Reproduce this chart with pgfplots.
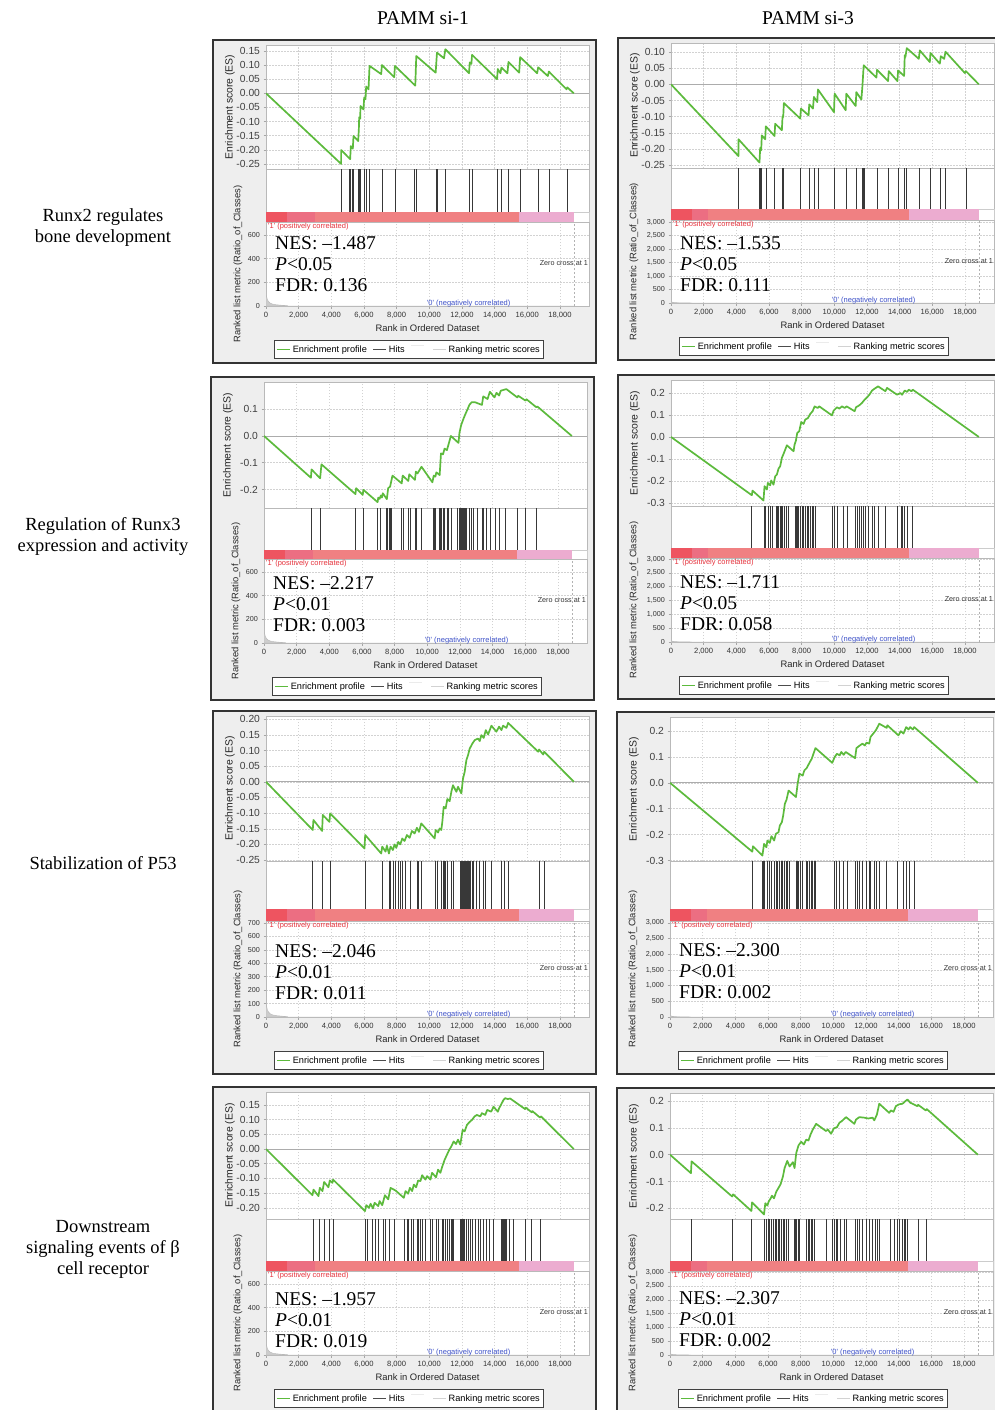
\documentclass[border=0pt]{standalone}
\usepackage{fontspec}
\setmainfont{Liberation Sans}
\newfontfamily\tnr{Liberation Serif}
\usepackage{pgfplots}
\pgfplotsset{compat=1.18}
\usepackage{pgfplotstable}
\pgfplotstableset{create on use/one/.style={create col/set={1}}}

\definecolor{esgreen}{RGB}{92,186,60}
\definecolor{barA}{RGB}{238,84,96}
\definecolor{barB}{RGB}{236,110,130}
\definecolor{barC}{RGB}{240,128,130}
\definecolor{barD}{RGB}{236,172,208}
\definecolor{panelbg}{RGB}{238,238,238}
\definecolor{poscol}{RGB}{230,50,60}
\definecolor{negcol}{RGB}{60,80,200}

\pgfplotsset{
 gbase/.style={scale only axis, width=323pt, xmin=0, xmax=19780, anchor=north west,
   scaled x ticks=false, scaled y ticks=false,
   axis background/.style={fill=white},
   axis line style={gray!55, line width=0.6pt},
   tick style={gray!70, line width=0.5pt},
   major tick length=2.5pt, tick align=outside,
   xtick={0,2000,...,18000},
   grid style={gray!35, dash pattern=on 1.5pt off 1.5pt, line width=0.5pt},
   /pgf/number format/assume math mode=true,
   legend image code/.code={\draw[##1] (0pt,0pt) -- (13pt,0pt);},
 },
 esax/.style={gbase, xmajorgrids, ymajorgrids, xticklabel style={opacity=0}, xtick style={draw=none}, ytick pos=left,
   yticklabel style={font=\fontsize{10.3}{10}\selectfont, text=black!75},
   ylabel={Enrichment score (ES)},
   ylabel style={at={(axis description cs:-0.1115,0.5)}, anchor=center, font=\fontsize{10.4}{11}\selectfont, text=black!85},
 },
 hitax/.style={gbase, xtick=\empty, ytick=\empty, ymin=0, ymax=1},
 barax/.style={gbase, xtick=\empty, ytick=\empty, ymin=0, ymax=1, axis line style={gray!40}},
 metax/.style={gbase, xmajorgrids, ymajorgrids, ytick pos=left, xtick pos=bottom,
   xticklabels={0,{2,000},{4,000},{6,000},{8,000},{10,000},{12,000},{14,000},{16,000},{18,000}},
   xticklabel style={font=\fontsize{7.6}{8}\selectfont, text=black!80},
   yticklabel style={font=\fontsize{7.2}{8}\selectfont, text=black!80},
   xlabel={Rank in Ordered Dataset},
   xlabel style={at={(axis description cs:0.5,0)}, anchor=center, yshift=-22pt, font=\fontsize{9.4}{10}\selectfont, text=black!85},
   ylabel={Ranked list metric (Ratio\_of\_Classes)},
   ylabel style={at={(axis description cs:-0.0867,0.5)}, anchor=center, font=\fontsize{9.4}{10}\selectfont, text=black!85},
   legend columns=4,
   legend style={at={(axis description cs:0,0)}, anchor=north west, xshift=8pt, yshift=-34pt,
     draw=black!75, line width=0.9pt, fill=white, font=\fontsize{9.2}{10}\selectfont, inner xsep=1.5pt, inner ysep=3pt,
     /tikz/every even column/.append style={column sep=4pt}},
 },
 metL/.style={ymin=0, ymax=710, ytick={0,200,400,600}, yticklabels={0,200,400,600}},
 metL7/.style={ymin=0, ymax=715, ytick={0,100,...,700}, yticklabels={0,100,200,300,400,500,600,700}},
 metR/.style={ymin=0, ymax=#1, ytick={0,500,...,3000}, yticklabels={0,500,{1,000},{1,500},{2,000},{2,500},{3,000}},
   ylabel style={at={(axis description cs:-0.1146,0.5)}}},
}

% ---------- data ----------
\pgfplotstableread[row sep=\\]{x y\\0 150\\15 120\\40 80\\80 55\\150 38\\250 25\\400 16\\650 10\\1000 6\\1300 3\\1350 0\\18850 0\\}\metLt
\pgfplotstableread[row sep=\\]{x y\\0 110\\20 60\\60 35\\150 20\\400 10\\1000 5\\1300 0\\18850 0\\}\metRt

\pgfplotstableread[row sep=\\]{x y\\0 0\\4601 -0.250\\4601 -0.201\\5153 -0.233\\5194 -0.187\\5317 -0.196\\5358 -0.151\\5644 -0.169\\5685 -0.128\\5706 -0.085\\5767 -0.090\\5787 -0.045\\5971 -0.057\\6012 -0.015\\6094 -0.021\\6135 0.024\\6278 0.014\\6340 0.097\\7055 0.068\\7096 0.100\\7853 0.057\\7894 0.097\\9141 0.027\\9203 0.132\\10389 0.073\\10470 0.144\\10900 0.124\\10982 0.156\\12434 0.071\\12475 0.109\\12577 0.104\\12618 0.136\\14151 0.050\\14192 0.086\\14356 0.071\\14417 0.091\\14785 0.071\\14847 0.111\\15501 0.073\\15563 0.128\\16605 0.071\\16667 0.092\\17260 0.061\\17321 0.077\\18405 0.014\\18446 0.021\\18850 0\\}\esA
\pgfplotstableread[row sep=\\]{x\\4601\\5130\\5194\\5317\\5358\\5685\\5706\\5767\\5787\\6012\\6135\\6340\\7096\\7894\\9100\\9203\\10430\\10490\\10982\\12475\\12618\\14192\\14417\\14847\\15563\\16667\\17321\\18446\\}\hitA

\pgfplotstableread[row sep=\\]{x y\\0 0\\4131 -0.222\\4131 -0.170\\5419 -0.242\\5460 -0.197\\5522 -0.204\\5562 -0.158\\5767 -0.170\\5808 -0.130\\6340 -0.160\\6380 -0.122\\6789 -0.142\\6830 -0.099\\6871 -0.101\\6912 -0.058\\7914 -0.106\\7955 -0.075\\8425 -0.096\\8466 -0.062\\8691 -0.075\\8753 -0.039\\8957 -0.055\\8998 -0.016\\9980 -0.086\\10021 -0.029\\10695 -0.080\\10736 -0.029\\11309 -0.067\\11350 -0.024\\11657 -0.047\\11718 -0.008\\11800 0.059\\12577 0.021\\12618 0.045\\13293 0.010\\13334 0.041\\13865 0.010\\13906 0.043\\14274 0.026\\14315 0.090\\14356 0.085\\14438 0.112\\15174 0.079\\15235 0.105\\15849 0.069\\15890 0.097\\16462 0.064\\16524 0.087\\16728 0.079\\16810 0.101\\17996 0.035\\18057 0.041\\18850 0\\}\esB
\pgfplotstableread[row sep=\\]{x\\4131\\5419\\5481\\5562\\5808\\6340\\6789\\6871\\7914\\8446\\8753\\8998\\10021\\10736\\11350\\11718\\11800\\11862\\12618\\13334\\13906\\14315\\14438\\15235\\15890\\16524\\16810\\18057\\}\hitB

\pgfplotstableread[row sep=\\]{x y\\0 0\\2871 -0.156\\2912 -0.125\\3437 -0.158\\3518 -0.106\\5601 -0.217\\5641 -0.195\\6046 -0.220\\6086 -0.201\\6956 -0.247\\6996 -0.230\\7077 -0.235\\7158 -0.222\\7219 -0.230\\7279 -0.214\\7522 -0.236\\7603 -0.195\\7724 -0.189\\7866 -0.148\\8432 -0.177\\8492 -0.148\\8836 -0.168\\8897 -0.143\\9241 -0.164\\9301 -0.133\\9400 -0.140\\9645 -0.115\\10312 -0.173\\10393 -0.148\\10494 -0.152\\10555 -0.136\\10757 -0.146\\10838 -0.065\\10959 -0.069\\11060 -0.047\\11202 -0.053\\11444 0\\11910 -0.026\\11970 0.012\\12071 0.040\\12213 0.064\\12314 0.079\\12475 0.101\\12576 0.116\\12718 0.126\\12920 0.126\\13346 0.116\\13426 0.148\\13689 0.138\\13831 0.165\\14114 0.144\\14235 0.161\\14397 0.151\\14498 0.169\\14841 0.175\\15509 0.144\\15570 0.150\\16014 0.132\\16075 0.137\\16681 0.107\\16740 0.110\\18850 0\\}\esC
\pgfplotstableread[row sep=\\]{x\\2871\\3478\\5601\\6066\\6956\\7117\\7522\\7583\\7663\\7724\\7825\\8432\\8533\\8836\\8937\\9241\\9342\\9645\\10352\\10453\\10514\\10757\\10817\\10878\\10959\\11060\\11202\\11262\\11444\\11869\\11970\\12010\\12071\\12132\\12193\\12274\\12334\\12415\\12576\\12718\\12819\\13082\\13346\\13426\\13588\\13831\\14195\\14437\\14761\\15509\\16014\\16681\\}\hitC

\pgfplotstableread[row sep=\\]{x y\\0 0\\4949 -0.265\\4990 -0.244\\5664 -0.289\\5726 -0.224\\5869 -0.239\\5931 -0.209\\6074 -0.220\\6135 -0.198\\6278 -0.217\\6380 -0.179\\6483 -0.171\\6585 -0.144\\6687 -0.133\\6789 -0.095\\6892 -0.077\\7096 -0.038\\7505 -0.065\\7566 -0.035\\7648 -0.017\\7730 0.018\\7853 0.026\\7975 0.068\\8118 0.059\\8221 0.079\\8384 0.086\\8528 0.105\\8671 0.117\\8794 0.139\\8978 0.132\\9080 0.139\\9857 0.098\\9959 0.120\\10164 0.135\\10307 0.129\\10470 0.139\\10634 0.132\\10756 0.139\\11247 0.117\\11329 0.135\\11534 0.144\\11697 0.155\\11861 0.170\\12004 0.180\\12147 0.192\\12311 0.211\\12475 0.220\\12679 0.230\\13129 0.208\\13231 0.223\\13845 0.192\\14049 0.200\\14151 0.192\\14315 0.211\\14458 0.205\\14560 0.215\\14724 0.208\\14806 0.215\\18850 0\\}\esD
\pgfplotstableread[row sep=\\]{x\\4949\\5706\\5767\\5931\\6074\\6176\\6421\\6503\\6585\\6667\\6749\\6830\\6933\\7035\\7157\\7607\\7669\\7751\\7812\\7914\\8016\\8119\\8221\\8323\\8425\\8528\\8630\\8732\\8834\\9898\\10021\\10164\\10573\\10777\\11288\\11391\\11534\\11657\\11800\\11902\\12106\\12352\\12475\\12679\\13129\\13845\\14110\\14192\\14315\\14479\\14806\\}\hitD

\pgfplotstableread[row sep=\\]{x y\\0 0\\2863 -0.154\\2904 -0.122\\3436 -0.157\\3477 -0.106\\3886 -0.128\\3927 -0.101\\6033 -0.213\\6074 -0.170\\7055 -0.229\\7117 -0.207\\7321 -0.223\\7403 -0.204\\7526 -0.229\\7628 -0.207\\7771 -0.218\\7874 -0.200\\7976 -0.211\\8098 -0.192\\8221 -0.200\\8344 -0.181\\8487 -0.189\\8630 -0.170\\8794 -0.179\\8937 -0.157\\9100 -0.165\\9243 -0.147\\9366 -0.160\\9509 -0.133\\10327 -0.181\\10389 -0.154\\10532 -0.162\\10634 -0.149\\10736 -0.154\\10798 -0.128\\10880 -0.080\\11002 -0.085\\11104 -0.055\\11247 -0.062\\11350 -0.032\\11452 -0.011\\11657 -0.032\\11760 -0.016\\11964 -0.037\\12066 0.011\\12168 0.032\\12270 0.069\\12373 0.085\\12475 0.106\\12638 0.122\\12781 0.133\\12986 0.138\\13088 0.130\\13190 0.149\\13333 0.140\\13457 0.165\\13599 0.151\\13804 0.179\\14110 0.160\\14274 0.176\\14417 0.165\\14520 0.179\\14724 0.172\\14826 0.188\\16667 0.096\\16728 0.103\\16973 0.087\\17035 0.096\\18850 0\\}\esE
\pgfplotstableread[row sep=\\]{x\\2863\\3477\\3926\\6074\\7117\\7526\\7607\\7771\\7935\\8078\\8241\\8344\\8548\\8834\\9243\\9305\\9509\\10389\\10491\\10757\\10839\\10900\\10982\\11104\\11350\\11452\\11902\\11963\\12025\\12066\\12106\\12168\\12229\\12270\\12331\\12393\\12475\\12536\\12618\\12720\\12884\\13047\\13333\\13456\\13804\\14417\\14622\\14826\\16728\\17035\\}\hitE

\pgfplotstableread[row sep=\\]{x y\\0 0\\5040 -0.266\\5081 -0.245\\5657 -0.281\\5760 -0.236\\5904 -0.249\\5965 -0.223\\6109 -0.232\\6212 -0.206\\6377 -0.223\\6480 -0.197\\6644 -0.191\\6726 -0.165\\6850 -0.152\\6932 -0.126\\7035 -0.081\\7138 -0.065\\7261 -0.030\\7714 -0.055\\7817 -0.004\\7920 0.035\\8125 0.028\\8228 0.048\\8372 0.057\\8537 0.077\\8681 0.093\\8784 0.112\\8907 0.134\\9935 0.077\\10079 0.099\\10223 0.112\\10388 0.106\\10491 0.119\\10635 0.108\\10758 0.119\\11334 0.095\\11416 0.134\\11622 0.144\\11787 0.151\\11931 0.144\\12034 0.155\\12198 0.151\\12280 0.177\\12445 0.190\\12609 0.203\\12815 0.228\\13268 0.212\\13309 0.222\\13988 0.183\\14132 0.199\\14297 0.190\\14461 0.215\\14605 0.206\\14708 0.215\\14872 0.206\\14954 0.215\\18850 0\\}\esF
\pgfplotstableread[row sep=\\]{x\\5040\\5657\\5718\\5801\\5965\\6068\\6233\\6377\\6521\\6603\\6685\\6788\\6891\\6994\\7097\\7200\\7303\\7755\\7817\\7878\\7960\\8084\\8331\\8434\\8537\\8640\\8742\\8845\\8907\\10038\\10182\\10347\\10635\\10861\\11375\\11457\\11622\\11787\\11993\\12198\\12280\\12486\\12609\\12815\\13268\\13926\\14297\\14461\\14667\\14954\\}\hitF

\pgfplotstableread[row sep=\\]{x y\\0 0\\2848 -0.157\\2909 -0.138\\3214 -0.160\\3295 -0.132\\3458 -0.143\\3560 -0.112\\3824 -0.130\\3905 -0.107\\4068 -0.115\\4109 -0.104\\6061 -0.211\\6143 -0.191\\6305 -0.200\\6407 -0.186\\6550 -0.202\\6651 -0.183\\6875 -0.194\\6956 -0.177\\7119 -0.191\\7282 -0.157\\7485 -0.171\\7627 -0.132\\7932 -0.141\\8441 -0.166\\8543 -0.143\\8706 -0.152\\8807 -0.132\\8950 -0.143\\9051 -0.121\\9194 -0.130\\9316 -0.107\\9458 -0.109\\9560 -0.089\\9763 -0.104\\9865 -0.092\\10068 -0.104\\10170 -0.081\\10414 -0.096\\10536 -0.070\\10678 -0.081\\10780 -0.062\\10943 -0.036\\11085 -0.019\\11227 -0.002\\11350 0.009\\11492 0.026\\11634 0.017\\11756 0.032\\11899 0.015\\12041 0.065\\12163 0.060\\12306 0.082\\12448 0.091\\12611 0.099\\12773 0.111\\12916 0.116\\13119 0.111\\13221 0.122\\13424 0.116\\13546 0.133\\13790 0.127\\13933 0.144\\14197 0.127\\14278 0.139\\14441 0.156\\14543 0.167\\14645 0.173\\14807 0.170\\14950 0.172\\15153 0.164\\15865 0.136\\15906 0.141\\16272 0.125\\16313 0.129\\16780 0.107\\16841 0.111\\18850 0\\}\esG
\pgfplotstableread[row sep=\\]{x\\2888\\3295\\3560\\3905\\4109\\6061\\6204\\6509\\6712\\6875\\7160\\7282\\7526\\7831\\8502\\8645\\8746\\8909\\9051\\9255\\9316\\9458\\9601\\9763\\10068\\10170\\10414\\10536\\10780\\10882\\10984\\11085\\11227\\11350\\11431\\11492\\11899\\11960\\12001\\12041\\12102\\12163\\12245\\12367\\12509\\12651\\12814\\12977\\13119\\13323\\13465\\13668\\13933\\14441\\14482\\14543\\14604\\14645\\14746\\14889\\15153\\15906\\16272\\16780\\}\hitG

\pgfplotstableread[row sep=\\]{x y\\0 0\\1281 -0.069\\1322 -0.025\\3804 -0.156\\3865 -0.148\\4983 -0.210\\5024 -0.178\\5756 -0.223\\5838 -0.181\\5960 -0.190\\6041 -0.175\\6163 -0.163\\6244 -0.153\\6366 -0.163\\6509 -0.138\\6651 -0.123\\6773 -0.110\\6916 -0.081\\7017 -0.050\\7180 -0.023\\7322 -0.044\\7526 -0.028\\7627 -0.050\\7729 0.006\\7871 0.035\\8034 0.048\\8197 0.038\\8339 0.056\\8481 0.053\\8604 0.075\\8746 0.094\\8950 0.115\\9560 0.088\\9661 0.094\\9865 0.078\\10028 0.098\\10231 0.103\\10373 0.119\\10516 0.125\\10780 0.140\\11289 0.115\\11391 0.131\\11594 0.140\\11899 0.138\\12143 0.135\\12407 0.138\\12509 0.128\\12672 0.150\\12814 0.190\\13424 0.156\\13526 0.165\\13689 0.160\\13831 0.181\\14034 0.188\\14238 0.190\\14380 0.198\\14543 0.206\\14706 0.194\\15153 0.181\\15194 0.186\\15662 0.165\\15723 0.170\\18850 0\\}\esH
\pgfplotstableread[row sep=\\]{x\\1281\\3824\\4983\\5756\\5899\\6000\\6102\\6204\\6305\\6448\\6529\\6611\\6712\\6814\\6916\\7017\\7119\\7221\\7587\\7668\\7729\\7831\\7933\\8339\\8441\\8543\\8645\\8746\\8848\\9560\\9967\\10068\\10170\\10272\\10434\\10678\\10780\\11329\\11452\\11594\\11797\\12001\\12204\\12407\\12550\\12672\\12814\\13485\\13729\\13892\\14034\\14238\\14339\\14441\\14543\\15194\\15723\\}\hitH

% ---------- one GSEA panel ----------
% #1 left x, #2 top y, #3 ES height, #4 hits height, #5 bar height, #6 metric height, #7 ES table, #8 hits table, #9 metric table
\newcommand\gsea[9]{%
\filldraw[fill=panelbg, draw=black!80, line width=1.6pt] ({#1pt-53pt},{-#2pt+5pt}) rectangle ({#1pt+330pt},{-#2pt-#3pt-#4pt-#5pt-#6pt-57pt});
\begin{axis}[esax, curES, at={({#1pt},{-#2pt})}, height=#3pt]
 \addplot[gray!65, line width=0.8pt] coordinates {(0,0) (19780,0)};
 \addplot[esgreen, line width=1.7pt, line join=round] table[x=x, y=y] {#7};
\end{axis}
\begin{axis}[hitax, at={({#1pt},{-#2pt-#3pt})}, height=#4pt]
 \addplot[ycomb, black!78, line width=0.7pt] table[x=x, y=one] {#8};
\end{axis}
\begin{axis}[barax, at={({#1pt},{-#2pt-#3pt-#4pt})}, height=#5pt]
 \addplot[fill=barA, draw=none] coordinates {(0,1) (\bA,1)} \closedcycle;
 \addplot[fill=barB, draw=none] coordinates {(\bA,1) (\bB,1)} \closedcycle;
 \addplot[fill=barC, draw=none] coordinates {(\bB,1) (\bC,1)} \closedcycle;
 \addplot[fill=barD, draw=none] coordinates {(\bC,1) (18850,1)} \closedcycle;
\end{axis}
\begin{axis}[metax, curMet, at={({#1pt},{-#2pt-#3pt-#4pt-#5pt})}, height=#6pt]
 \addlegendimage{esgreen, line width=1.8pt}\addlegendentry{Enrichment profile}
 \addlegendimage{black!70, line width=1pt}\addlegendentry{Hits}
 \addlegendimage{black!8, line width=1pt, yshift=4pt}\addlegendentry{}
 \addlegendimage{gray!35, line width=1pt}\addlegendentry{Ranking metric scores}
 \addplot[fill=gray!40, draw=gray!55, line width=0.4pt, forget plot] table[x=x, y=y] {#9} \closedcycle;
 \addplot[gray!60, dash pattern=on 2pt off 2pt, line width=0.6pt, forget plot] coordinates {(18850,0) (18850,5000)};
 \node[anchor=north west, inner sep=1pt, text=poscol, font=\fontsize{7.5}{8}\selectfont] at (rel axis cs:0.003,1) {\textquotesingle 1\textquotesingle\ (positively correlated)};
 \node[anchor=base west, inner sep=0pt, yshift=1pt, text=negcol, font=\fontsize{7.5}{8}\selectfont] at (axis cs:9850,0) {\textquotesingle 0\textquotesingle\ (negatively correlated)};
 \node[anchor=east, inner sep=1pt, text=black!80, font=\fontsize{7.2}{8}\selectfont] at (rel axis cs:1,0.51) {Zero cross at 1};
 \node[anchor=north west, align=left, inner sep=0pt, xshift=9pt, yshift=\nesy, font=\tnr\fontsize{19.5}{21.3}\selectfont] at (rel axis cs:0,1) {\nestext};
\end{axis}
}

\begin{document}
\begin{tikzpicture}
\useasboundingbox (0,0) rectangle (995pt,-1410pt);
\clip (0,0) rectangle (995pt,-1410pt);
\fill[white] (0,0) rectangle (995pt,-1410pt);

% headers and row labels
\node[font=\tnr\fontsize{19.5}{22}\selectfont] at (423pt,-18pt) {PAMM si-1};
\node[font=\tnr\fontsize{19.5}{22}\selectfont] at (808pt,-18pt) {PAMM si-3};
\node[align=center, font=\tnr\fontsize{18.5}{21}\selectfont] at (103pt,-228pt) {Runx2 regulates\\bone development};
\node[align=center, font=\tnr\fontsize{18.5}{21}\selectfont] at (103pt,-536pt) {Regulation of Runx3\\expression and activity};
\node[align=center, font=\tnr\fontsize{18.5}{21}\selectfont] at (103pt,-863pt) {Stabilization of P53};
\node[align=center, font=\tnr\fontsize{18.5}{21}\selectfont] at (103pt,-1249pt) {Downstream\\signaling events of β\\cell receptor};

% Row 1
\pgfplotsset{curES/.style={ymin=-0.268, ymax=0.171, ytick={-0.25,-0.2,-0.15,-0.1,-0.05,0,0.05,0.1,0.15}, yticklabels={-0.25,-0.20,-0.15,-0.10,-0.05,0.00,0.05,0.10,0.15}}, curMet/.style={metL}}
\def\nestext{NES: –1.487\\\textit{P}<0.05\\FDR: 0.136}\def\nesy{-14pt}\def\bA{1300}\def\bB{3000}\def\bC{15500}
\gsea{266}{45}{124}{43}{10}{84}{\esA}{\hitA}{\metLt}

\pgfplotsset{curES/.style={ymin=-0.259, ymax=0.128, ytick={-0.25,-0.2,-0.15,-0.1,-0.05,0,0.05,0.1}, yticklabels={-0.25,-0.20,-0.15,-0.10,-0.05,0.00,0.05,0.10}}, curMet/.style={metR=3074}}
\def\nestext{NES: –1.535\\\textit{P}<0.05\\FDR: 0.111}\def\nesy{-16pt}\def\bA{1300}\def\bB{2250}\def\bC{14550}
\gsea{671}{43}{125}{41}{11}{83}{\esB}{\hitB}{\metRt}

% Row 2
\pgfplotsset{curES/.style={ymin=-0.269, ymax=0.2015, ytick={-0.2,-0.1,0,0.1}, yticklabels={-0.2,-0.1,0.0,0.1}}, curMet/.style={metL}}
\def\nestext{NES: –2.217\\\textit{P}<0.01\\FDR: 0.003}\def\nesy{-17pt}\def\bA{1300}\def\bB{3000}\def\bC{15500}
\gsea{264}{382}{126}{42}{9}{84}{\esC}{\hitC}{\metLt}

\pgfplotsset{curES/.style={ymin=-0.314, ymax=0.259, ytick={-0.3,-0.2,-0.1,0,0.1,0.2}, yticklabels={-0.3,-0.2,-0.1,0.0,0.1,0.2}}, curMet/.style={metR=3036}}
\def\nestext{NES: –1.711\\\textit{P}<0.05\\FDR: 0.058}\def\nesy{-17pt}\def\bA{1300}\def\bB{2250}\def\bC{14550}
\gsea{671}{380}{126}{42}{10}{84}{\esD}{\hitD}{\metRt}

% Row 3
\pgfplotsset{curES/.style={ymin=-0.253, ymax=0.21, ytick={-0.25,-0.2,-0.15,-0.1,-0.05,0,0.05,0.1,0.15,0.2}, yticklabels={-0.25,-0.20,-0.15,-0.10,-0.05,0.00,0.05,0.10,0.15,0.20}}, curMet/.style={metL7}}
\def\nestext{NES: –2.046\\\textit{P}<0.01\\FDR: 0.011}\def\nesy{-23pt}\def\bA{1300}\def\bB{3000}\def\bC{15500}
\gsea{266}{716}{145}{48}{12}{96}{\esE}{\hitE}{\metLt}

\pgfplotsset{curES/.style={ymin=-0.302, ymax=0.254, ytick={-0.3,-0.2,-0.1,0,0.1,0.2}, yticklabels={-0.3,-0.2,-0.1,0.0,0.1,0.2}}, curMet/.style={metR=3060}}
\def\nestext{NES: –2.300\\\textit{P}<0.01\\FDR: 0.002}\def\nesy{-22pt}\def\bA{1300}\def\bB{2250}\def\bC{14550}
\gsea{670}{717}{144}{48}{12}{96}{\esF}{\hitF}{\metRt}

% Row 4
\pgfplotsset{curES/.style={ymin=-0.238, ymax=0.194, ytick={-0.2,-0.15,-0.1,-0.05,0,0.05,0.1,0.15}, yticklabels={-0.20,-0.15,-0.10,-0.05,0.00,0.05,0.10,0.15}}, curMet/.style={metL}}
\def\nestext{NES: –1.957\\\textit{P}<0.01\\FDR: 0.019}\def\nesy{-21pt}\def\bA{1300}\def\bB{3000}\def\bC{15500}
\gsea{266}{1092}{127}{42}{10}{84}{\esG}{\hitG}{\metLt}

\pgfplotsset{curES/.style={ymin=-0.24, ymax=0.23, ytick={-0.2,-0.1,0,0.1,0.2}, yticklabels={-0.2,-0.1,0.0,0.1,0.2}}, curMet/.style={metR=3040}}
\def\nestext{NES: –2.307\\\textit{P}<0.01\\FDR: 0.002}\def\nesy{-20pt}\def\bA{1300}\def\bB{2250}\def\bC{14550}
\gsea{670}{1093}{126}{42}{10}{84}{\esH}{\hitH}{\metRt}

\end{tikzpicture}
\end{document}
